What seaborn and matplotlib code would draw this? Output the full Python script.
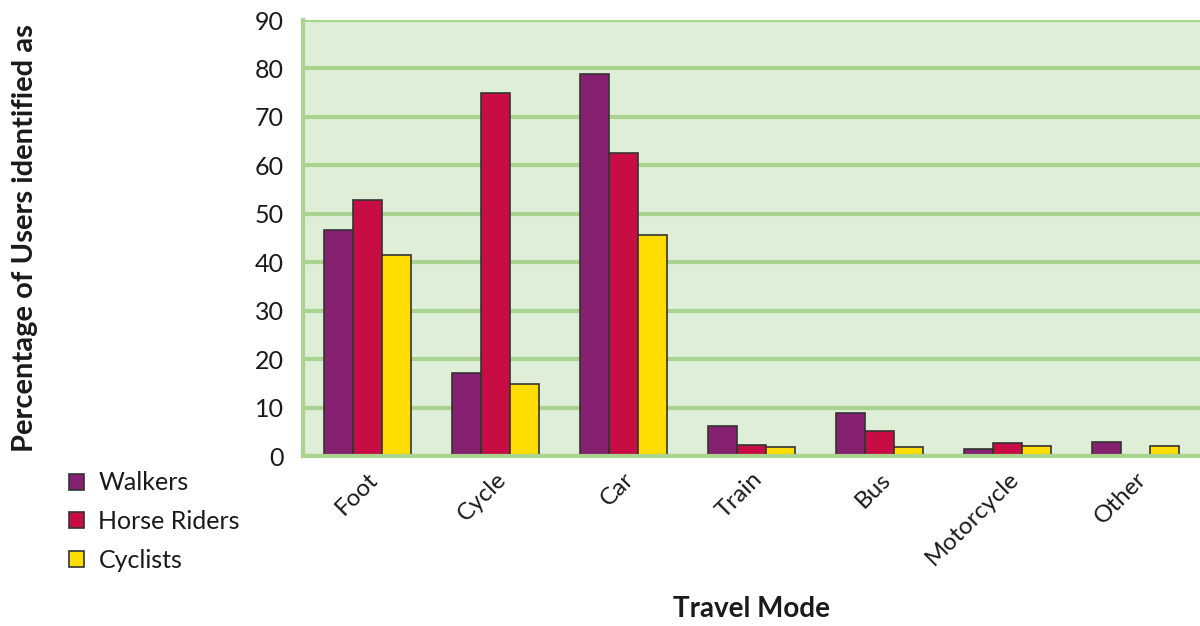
import matplotlib
matplotlib.use('Agg')
import matplotlib.pyplot as plt
import seaborn as sb
import pandas as pd
import numpy as np

modes = ['Foot', 'Cycle', 'Car', 'Train', 'Bus', 'Motorcycle', 'Other']
walkers = [46.6, 17.1, 78.9, 6.1, 8.8, 1.4, 2.9]
horse_riders = [52.8, 74.9, 62.5, 2.3, 5.2, 2.7, 0.0]
cyclists = [41.5, 14.9, 45.6, 1.9, 1.9, 2.1, 2.1]
groups = ['Walkers', 'Horse Riders', 'Cyclists']
colours = ['#862070', '#C80C44', '#FFDD00']

df = pd.DataFrame({
    'mode': modes * 3,
    'pct': walkers + horse_riders + cyclists,
    'who': [g for g in groups for _ in modes],
})

sb.set_style('white')
plt.rcParams['font.family'] = ['Lato', 'DejaVu Sans']

grid_col = '#A8D490'
txt = '#1a1a1a'
fig = plt.figure(figsize=(12, 6.26), dpi=100)
ax = fig.add_axes([303 / 1200, 1 - 456 / 626, 897 / 1200, 436 / 626])
ax.set_facecolor('#DFEED6')

sb.barplot(data=df, x='mode', y='pct', hue='who', palette=colours, width=0.68,
           edgecolor='#333333', linewidth=1.2, saturation=1, ax=ax, zorder=3)

ax.set_ylim(0, 90)
ax.set_xlim(-0.5, 6.5)
ax.set_yticks(range(0, 91, 10))
ax.yaxis.grid(True, color=grid_col, linewidth=3, zorder=0)
ax.set_axisbelow(True)
for s in ['top', 'right']:
    ax.spines[s].set_visible(False)
for s in ['left', 'bottom']:
    ax.spines[s].set_color(grid_col)
    ax.spines[s].set_linewidth(3)
    ax.spines[s].set_zorder(4)

ax.tick_params(axis='y', labelsize=18, length=8, width=3, color=grid_col, pad=6, labelcolor=txt)
ax.set_xticks(np.arange(7))
ax.set_xticklabels(modes, rotation=45, ha='right', rotation_mode='anchor', fontsize=17.5, color=txt)
ax.tick_params(axis='x', which='major', length=0, pad=9)
ax.set_xticks(np.arange(-0.5, 7, 1), minor=True)
ax.tick_params(axis='x', which='minor', length=10, width=3, color=grid_col, direction='out')

ax.set_xlabel('Travel Mode', fontsize=20, fontweight='bold', color=txt)
ax.xaxis.set_label_coords(0.5, -0.322)
ax.set_ylabel('Percentage of Users identified as', fontsize=21, fontweight='bold', color=txt)
ax.yaxis.set_label_coords(-0.295, 0.5)

handles, labels = ax.get_legend_handles_labels()
leg = ax.legend(handles, labels, loc='upper left', bbox_to_anchor=(46 / 1200, 1 - 449 / 626),
                bbox_transform=fig.transFigure, frameon=False, fontsize=18,
                handlelength=0.6, handleheight=0.6, labelspacing=0.62, handletextpad=0.6)
for t in leg.get_texts():
    t.set_color(txt)

fig.savefig('out.png', dpi=100)
